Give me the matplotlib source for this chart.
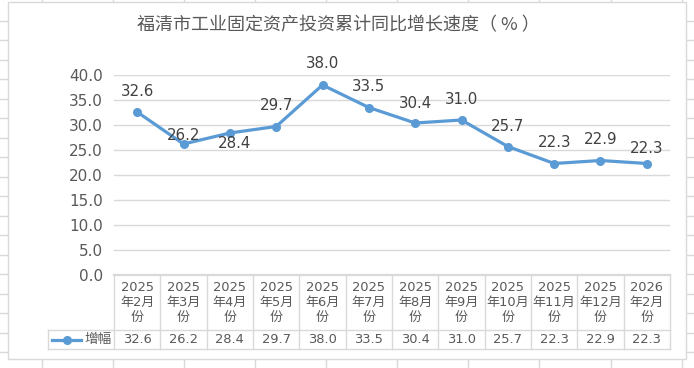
"""
福清市工业固定资产投资累计同比增长速度 -- Excel-style line chart with data table.
Saves out.png (694x368).
"""

import numpy as np
import matplotlib.pyplot as plt
import matplotlib.transforms as mtransforms
from matplotlib.lines import Line2D
from matplotlib.patches import Rectangle

plt.rcParams["font.family"] = ["DejaVu Sans", "Noto Sans CJK SC"]

TITLE = "福清市工业固定资产投资累计同比增长速度（ % ）"
SERIES_NAME = "增幅"

CATEGORIES = [
    "2025\n年2月\n份", "2025\n年3月\n份", "2025\n年4月\n份", "2025\n年5月\n份",
    "2025\n年6月\n份", "2025\n年7月\n份", "2025\n年8月\n份", "2025\n年9月\n份",
    "2025\n年10月\n份", "2025\n年11月\n份", "2025\n年12月\n份", "2026\n年2月\n份",
]
VALUES = [32.6, 26.2, 28.4, 29.7, 38.0, 33.5, 30.4, 31.0, 25.7, 22.3, 22.9, 22.3]
Y_TICKS = [0, 5, 10, 15, 20, 25, 30, 35, 40]

# label placement (pixels relative to the point), mimicking Excel's layout
LABEL_DX = [0, 0, 5, 0, 0, 0, 0, 0, 0, 0, 0, 0]
LABEL_DY = [20, 8, -11, 21, 21, 21, 20, 21, 20, 21, 21, 15]

W, H = 694, 368
LINE_C = "#5B9BD5"
GRID_C = "#d9d9d9"
TXT_C = "#595959"


def fx(px):
    return px / W


def fy(py):
    return 1 - py / H


fig = plt.figure(figsize=(W / 100, H / 100), dpi=100)

# spreadsheet cells behind the chart
for x in [42, 113, 184, 255, 326, 397, 468, 539, 611, 682]:
    fig.add_artist(Line2D([fx(x), fx(x)], [0, 1], color=GRID_C, lw=1, zorder=0.2))
for y in np.linspace(21, 352, 18):
    fig.add_artist(Line2D([0, 1], [fy(y), fy(y)], color=GRID_C, lw=1, zorder=0.2))

# chart area
fig.add_artist(Rectangle((fx(8), fy(359)), fx(686) - fx(8), fy(2) - fy(359),
                         facecolor="white", edgecolor=GRID_C, lw=1, zorder=1))

fig.text(fx(338), fy(25), TITLE, ha="center", va="center", fontsize=13,
         color=TXT_C, family=["Noto Sans CJK SC", "DejaVu Sans"], zorder=3)

ax = fig.add_axes([fx(114), fy(275), fx(670) - fx(114), fy(75) - fy(275)])
ax.set_facecolor("none")
ax.set_zorder(3)
x = np.arange(len(VALUES))
ax.plot(x, VALUES, color=LINE_C, lw=2.3, marker="o", markersize=5.5,
        solid_capstyle="round", zorder=4)
for i, v in enumerate(VALUES):
    ax.annotate(f"{v:.1f}", (i, v), xytext=(LABEL_DX[i], LABEL_DY[i]),
                textcoords="offset pixels", ha="center", va="center",
                fontsize=10.8, color="#404040", zorder=5)

ax.set_xlim(-0.5, len(VALUES) - 0.5)
ax.set_ylim(0, 40)
ax.set_yticks(Y_TICKS)
ax.set_yticklabels([f"{t:.1f}" for t in Y_TICKS])
ax.tick_params(axis="y", length=0, pad=8, labelsize=11, labelcolor=TXT_C)
ax.set_xticks([])
ax.yaxis.grid(True, color=GRID_C, lw=1)
ax.set_axisbelow(True)
for s in ax.spines.values():
    s.set_visible(False)

# data table under the plot
blend = mtransforms.blended_transform_factory(ax.transData, fig.transFigure)
y_top, y_mid, y_bot = fy(275), fy(330), fy(349)
n = len(VALUES)
fig.add_artist(Line2D([-0.5, n - 0.5], [y_top, y_top], transform=blend,
                      color=GRID_C, lw=1.6, zorder=3))
fig.add_artist(Line2D([fx(48), fx(670)], [y_mid, y_mid], color=GRID_C, lw=1, zorder=3))
fig.add_artist(Line2D([fx(48), fx(670)], [y_bot, y_bot], color=GRID_C, lw=1, zorder=3))
fig.add_artist(Line2D([fx(48), fx(48)], [y_mid, y_bot], color=GRID_C, lw=1, zorder=3))
for k in range(n + 1):
    fig.add_artist(Line2D([k - 0.5, k - 0.5], [y_top, y_bot], transform=blend,
                          color=GRID_C, lw=1, zorder=3))
for i, (cat, v) in enumerate(zip(CATEGORIES, VALUES)):
    fig.text(i, (y_top + y_mid) / 2, cat, transform=blend, ha="center", va="center",
             fontsize=9.4, color=TXT_C, linespacing=1.2, zorder=4)
    fig.text(i, (y_mid + y_bot) / 2, f"{v:.1f}", transform=blend, ha="center",
             va="center", fontsize=9.4, color=TXT_C, zorder=4)

# legend key in the table
ly = (y_mid + y_bot) / 2
fig.add_artist(Line2D([fx(52), fx(81)], [ly, ly], color=LINE_C, lw=2.3, zorder=4))
fig.add_artist(Line2D([fx(66.5)], [ly], color=LINE_C, marker="o", markersize=5.5,
                      lw=0, zorder=4))
fig.text(fx(84), ly, SERIES_NAME, ha="left", va="center", fontsize=9.8,
         color=TXT_C, family=["Noto Sans CJK SC"], zorder=4)

fig.savefig("out.png", dpi=100)
